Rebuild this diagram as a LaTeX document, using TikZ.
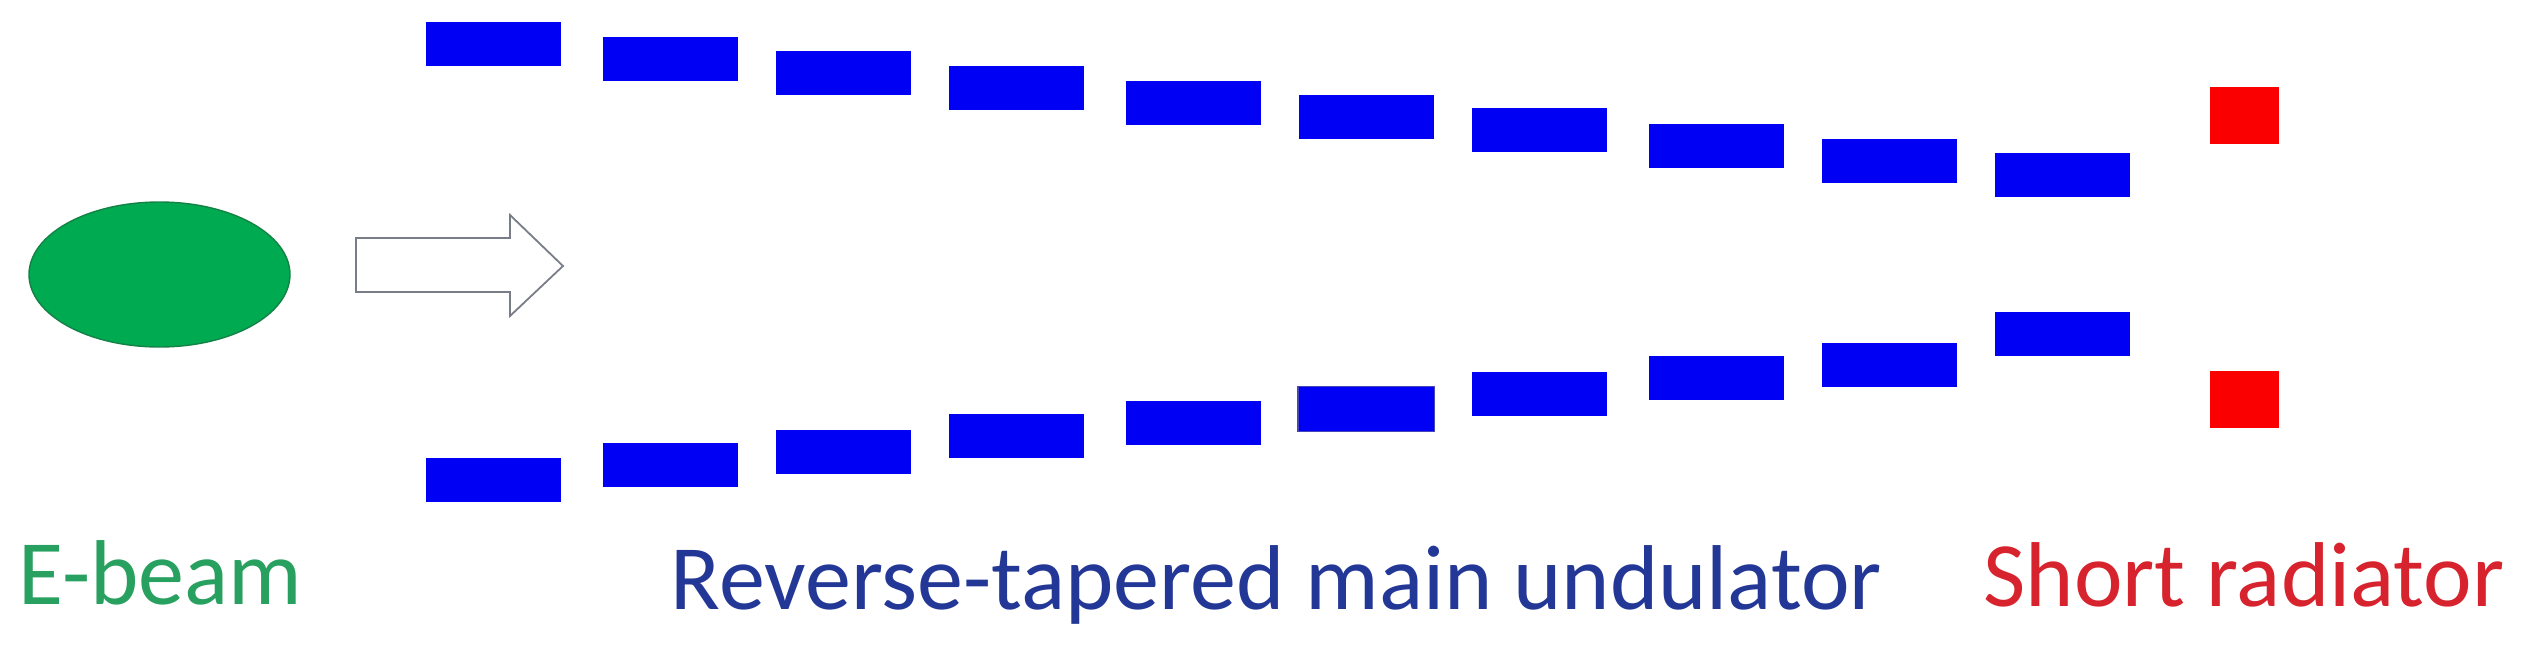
\documentclass[tikz,border=0pt]{standalone}
\usepackage{fontspec}
\setmainfont{Carlito}
\usetikzlibrary{positioning,shapes.geometric}

\definecolor{undblue}{RGB}{0,0,245}
\definecolor{undtext}{RGB}{35,55,150}
\definecolor{beamgreen}{RGB}{0,170,80}
\definecolor{beamedge}{RGB}{20,130,70}
\definecolor{beamtext}{RGB}{40,160,95}
\definecolor{radred}{RGB}{250,0,0}
\definecolor{radtext}{RGB}{215,35,45}
\definecolor{arrowgray}{RGB}{120,125,135}

\tikzset{
  undblock/.style={fill=undblue, minimum width=13.5mm, minimum height=4.4mm, inner sep=0pt, anchor=west},
  radblock/.style={fill=radred, minimum width=6.9mm, minimum height=5.7mm, inner sep=0pt},
  lbl/.style={anchor=base west, inner sep=0pt, font=\fontsize{26.2}{31}\selectfont}
}

\begin{document}
\begin{tikzpicture}[x=0.1mm,y=-0.1mm]
\useasboundingbox (0,0) rectangle (2534,646);

% electron bunch
\node[ellipse, fill=beamgreen, draw=beamedge, thin, minimum width=26.1mm, minimum height=14.5mm, inner sep=0pt] (beam) at (159.5,274.5) {};
\draw[arrowgray, line width=0.18mm, fill=white] (356,238) -- (510,238) -- (510,215) -- (563,266) -- (510,316) -- (510,292) -- (356,292) -- cycle;

% main undulator, upper and lower rows
\foreach \i/\x/\yt/\yb in {1/425/44/480, 2/602/59/465, 3/775/73/452, 4/948/88/436, 5/1125/103/423,
                           6/1298/117/409, 7/1471/130/394, 8/1648/146/378, 9/1821/161/365, 10/1994/175/334}
{
  \node[undblock] (top\i) at (\x,\yt) {};
  \node[undblock] (bot\i) at (\x,\yb) {};
}
\draw[blue!45!gray, thin] (bot6.north west) rectangle (bot6.south east);

% radiator
\node[radblock] (radtop) at (2244.5,115.5) {};
\node[radblock] (radbot) at (2244.5,399.5) {};

\node[lbl, text=beamtext] (beamlbl) at (18,604) {E-beam};
\node[lbl, text=undtext] (undlbl) at (670,609) {Reverse-tapered main undulator};
\node[lbl, text=radtext] (radlbl) at (1983,606) {Short radiator};
\end{tikzpicture}
\end{document}
